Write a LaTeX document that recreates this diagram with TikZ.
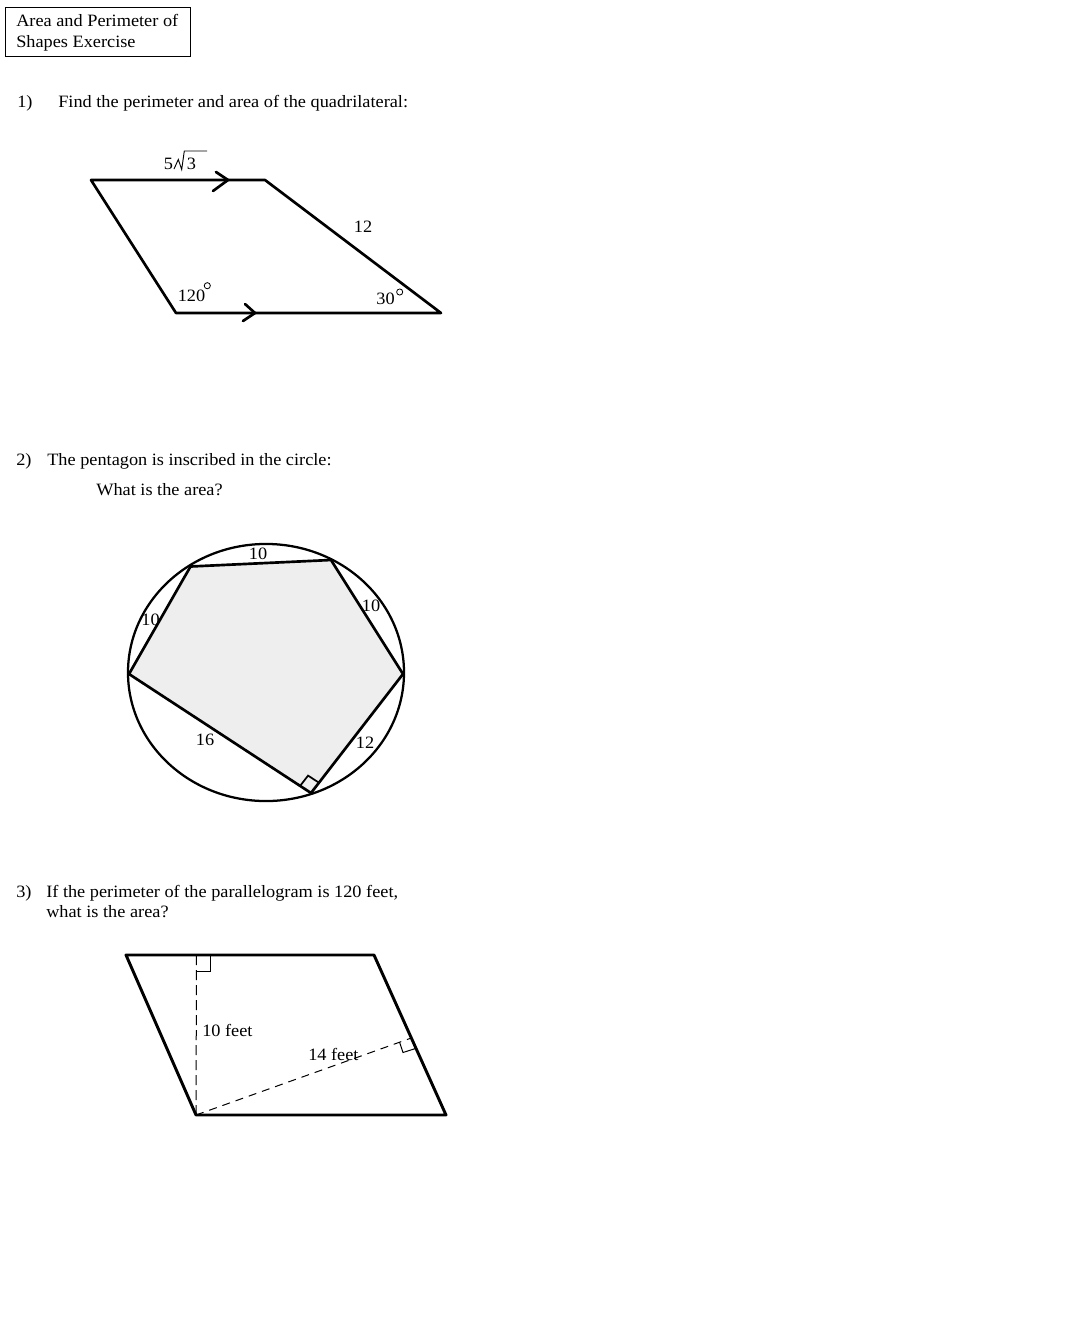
\documentclass[tikz,border=0pt]{standalone}
\usepackage{fontspec}
\setmainfont{Liberation Serif}[FakeStretch=1.055]
\usetikzlibrary{calc}
\definecolor{pentfill}{RGB}{238,238,238}
\begin{document}
\begin{tikzpicture}[x=0.75pt,y=-0.75pt,
  txt/.style={inner sep=0pt, font=\fontsize{13}{15}\selectfont},
  lt/.style={txt, anchor=base west},
  lb/.style={txt, anchor=base},
  heavy/.style={line width=2pt, line join=round, line cap=round},
  thin/.style={line width=0.75pt},
  degree/.style={line width=0.6pt},
  vdash/.style={line width=0.75pt, dash pattern=on 7.5pt off 3.75pt},
  ddash/.style={line width=0.75pt, dash pattern=on 6pt off 4.5pt}]
\useasboundingbox (0,0) rectangle (1088,1328);
\fill[white] (0,0) rectangle (1088,1328);

% title box
\draw[thin] (5.5,7.5) rectangle (190.5,56.5);
\node[lt] (t1) at (16,26) {Area and Perimeter of};
\node[lt] (t2) at (16,47) {Shapes Exercise};

% ---------- 1 ----------
\node[lt] (n1) at (17,107) {1)};
\node[lt] (q1) at (58,107) {Find the perimeter and area of the quadrilateral:};

\coordinate (QA) at (91,180);
\coordinate (QB) at (265,180);
\coordinate (QC) at (441,313);
\coordinate (QD) at (176,313);
\draw[heavy] (QA) -- (QB) -- (QC) -- (QD) -- cycle;
% parallel arrows
\coordinate (AT) at (228,180);
\coordinate (AB) at (255,313);
\draw[heavy] (216,172) -- (AT) -- (213,191);
\draw[heavy] (245,304) -- (AB) -- (243,321);
% 5 sqrt 3
\node[lb] (five) at (168.5,169) {5};
\draw[line width=0.7pt, line join=miter] (174,169) -- (178.3,159.5) -- (181.7,169.5) -- (184.3,151) -- (207,151);
\node[lb] (three) at (191.5,169) {3};
\node[lb] (l12) at (363,232) {12};
\node[lb] (l120) at (191.5,301.5) {120};
\draw[degree] (207.3,285.7) circle (2.3pt);
\node[lb] (l30) at (385.5,304) {30};
\draw[degree] (399.7,292) circle (2.3pt);

% ---------- 2 ----------
\node[lt] (n2) at (16,465.5) {2)};
\node[lt] (q2) at (47,465.5) {The pentagon is inscribed in the circle:};
\node[lt] (q2b) at (96,495) {What is the area?};

\coordinate (PA) at (190.5,566.5);
\coordinate (PB) at (331,560);
\coordinate (PC) at (403,674);
\coordinate (PD) at (311,793);
\coordinate (PE) at (129,674);
\fill[pentfill] (PA) -- (PB) -- (PC) -- (PD) -- (PE) -- cycle;
\draw[line width=1.7pt] (266,672.5) ellipse [x radius=103.5pt, y radius=96.4pt];
\draw[heavy, line cap=butt, line join=miter] (PA) -- (PB) -- (PC) -- (PD) -- (PE) -- cycle;
% right angle marker at D
\coordinate (RU) at ($(PD)!13/217.4!(PE)$);
\coordinate (RV) at ($(PD)!13/150.4!(PC)$);
\draw[line width=1.3pt] (RU) -- ($(RU)+(RV)-(PD)$) -- (RV);
\node[lb] (p10a) at (258,559) {10};
\node[lb] (p10b) at (371,611) {10};
\node[lb] (p10c) at (150.5,625) {10};
\node[lb] (p16) at (205,745) {16};
\node[lb] (p12) at (365,748) {12};

% ---------- 3 ----------
\node[lt] (n3) at (16,897) {3)};
\node[lt] (q3) at (46,897) {If the perimeter of the parallelogram is 120 feet,};
\node[lt] (q3b) at (46,917.5) {what is the area?};

\coordinate (RA) at (126,955);
\coordinate (RB) at (374,955);
\coordinate (RC) at (446,1115);
\coordinate (RD) at (196,1115);
\coordinate (HT) at (196.5,955);
\coordinate (FT) at (411.3,1038);
\draw[heavy, line width=2.2pt] (RA) -- (RB) -- (RC) -- (RD) -- cycle;
\draw[vdash] (RD) -- (HT);
\draw[thin] (196.5,971) -- (210,971) -- (210,955);
\draw[ddash] (RD) -- (FT);
\draw[thin] (399.5,1042) -- (403,1052.5) -- (415.5,1048.5);
\node[lt] (h10) at (202,1036) {10 feet};
\node[lt] (h14) at (308,1060) {14 feet};
\end{tikzpicture}
\end{document}
